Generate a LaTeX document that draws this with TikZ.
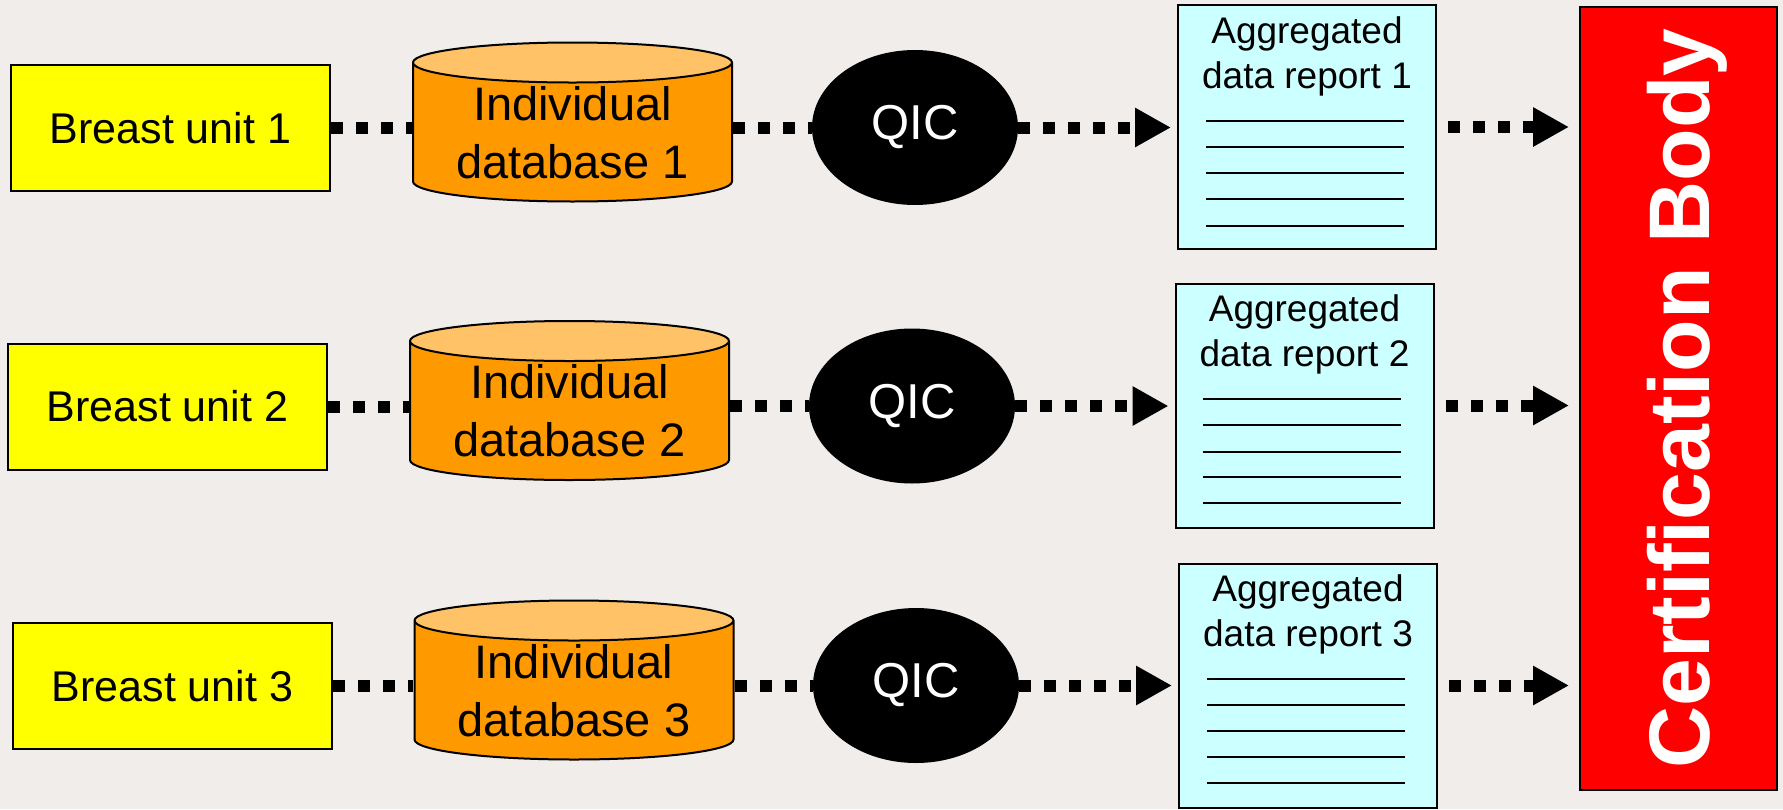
\documentclass[tikz,border=0pt]{standalone}
\usepackage{xcolor}
\usepackage{fontspec}
\setmainfont{Liberation Sans}
\usepackage{tikz}
\usetikzlibrary{shapes.geometric, arrows.meta}

\definecolor{bgcol}{RGB}{240,237,234}
\definecolor{unityellow}{RGB}{255,255,0}
\definecolor{dbbody}{RGB}{255,153,0}
\definecolor{dbtop}{RGB}{255,194,102}
\definecolor{reportcyan}{RGB}{204,255,255}
\definecolor{certred}{RGB}{255,0,0}

\tikzset{
    unit/.style={draw=black, line width=2pt, fill=unityellow, minimum width=319pt, minimum height=126pt, font=\fontsize{43}{52}\selectfont},
    db/.style={cylinder, shape border rotate=90, aspect=0.172, draw=black, line width=2pt, cylinder uses custom fill, cylinder body fill=dbbody, cylinder end fill=dbtop, minimum width=319pt, minimum height=159pt, inner sep=0pt, align=center, font=\fontsize{47}{58}\selectfont},
    qic/.style={ellipse, fill=black, text=white, minimum width=206pt, minimum height=155pt, font=\fontsize{49}{58}\selectfont},
    report/.style={draw=black, line width=2pt, fill=reportcyan, minimum width=258pt, minimum height=244pt},
    reporttext/.style={anchor=north, align=center, inner sep=0pt, font=\fontsize{37}{45}\selectfont},
    rule/.style={line width=2pt},
    certbox/.style={draw=black, line width=2pt, fill=certred, text=white, rotate=90, minimum width=783pt, minimum height=197pt, inner sep=2pt, text depth=0pt, font=\fontsize{86}{100}\selectfont\bfseries},
    flow/.style={line width=12pt, dash pattern=on 12pt off 13pt},
    flowarrow/.style={flow, -{Triangle[length=36pt, width=37pt]}}
}

\begin{document}
\begin{tikzpicture}[x=1pt, y=-1pt]
        \useasboundingbox (0, 0) rectangle (1783, 809);
        \fill[bgcol] (0, 0) rectangle (1783, 809);

        % row 1
        \node[unit] (unit1) at (170.5, 128) {Breast unit 1};
        \node[db] (db1) at (572.5, 132.5) {Individual\\database 1};
        \node[qic] (qic1) at (915, 127.5) {QIC};
        \node[report] (rep1) at (1307, 127) {};
        \node[reporttext] (rep1text) at ([yshift=-12pt]rep1.north) {Aggregated\\data report 1};
        \draw[rule] (1206, 121) -- (1404, 121);
        \draw[rule] (1206, 147) -- (1404, 147);
        \draw[rule] (1206, 173) -- (1404, 173);
        \draw[rule] (1206, 199) -- (1404, 199);
        \draw[rule] (1206, 226) -- (1404, 226);

        % row 2
        \node[unit] (unit2) at (167.5, 406.5) {Breast unit 2};
        \node[db] (db2) at (569.5, 411) {Individual\\database 2};
        \node[qic] (qic2) at (912, 406) {QIC};
        \node[report] (rep2) at (1304.5, 405.5) {};
        \node[reporttext] (rep2text) at ([yshift=-12pt]rep2.north) {Aggregated\\data report 2};
        \draw[rule] (1203, 399) -- (1401, 399);
        \draw[rule] (1203, 425) -- (1401, 425);
        \draw[rule] (1203, 452) -- (1401, 452);
        \draw[rule] (1203, 477) -- (1401, 477);
        \draw[rule] (1203, 503) -- (1401, 503);

        % row 3
        \node[unit] (unit3) at (172.5, 686) {Breast unit 3};
        \node[db] (db3) at (574, 690.5) {Individual\\database 3};
        \node[qic] (qic3) at (916, 685.5) {QIC};
        \node[report] (rep3) at (1308, 685.5) {};
        \node[reporttext] (rep3text) at ([yshift=-12pt]rep3.north) {Aggregated\\data report 3};
        \draw[rule] (1207, 679) -- (1405, 679);
        \draw[rule] (1207, 705) -- (1405, 705);
        \draw[rule] (1207, 731) -- (1405, 731);
        \draw[rule] (1207, 757) -- (1405, 757);
        \draw[rule] (1207, 783) -- (1405, 783);

        \node[certbox] (cert) at (1678.5, 398.5) {Certification Body};

        % dotted connectors
        \draw[flow] (unit1.east) -- (unit1 -| db1.west);
        \draw[flow] (qic1 -| db1.east) -- (qic1.west);
        \draw[flowarrow, shorten >=6pt] (qic1.east) -- (qic1 -| rep1.west);
        \draw[flowarrow, shorten <=11pt, shorten >=10pt] (rep1.east) -- (rep1 -| cert.north);

        \draw[flow] (unit2.east) -- (unit2 -| db2.west);
        \draw[flow] (qic2 -| db2.east) -- (qic2.west);
        \draw[flowarrow, shorten >=6pt] (qic2.east) -- (qic2 -| rep2.west);
        \draw[flowarrow, shorten <=11pt, shorten >=10pt] (rep2.east) -- (rep2 -| cert.north);

        \draw[flow] (unit3.east) -- (unit3 -| db3.west);
        \draw[flow] (qic3 -| db3.east) -- (qic3.west);
        \draw[flowarrow, shorten >=6pt] (qic3.east) -- (qic3 -| rep3.west);
        \draw[flowarrow, shorten <=11pt, shorten >=10pt] (rep3.east) -- (rep3 -| cert.north);
    \end{tikzpicture}
\end{document}
